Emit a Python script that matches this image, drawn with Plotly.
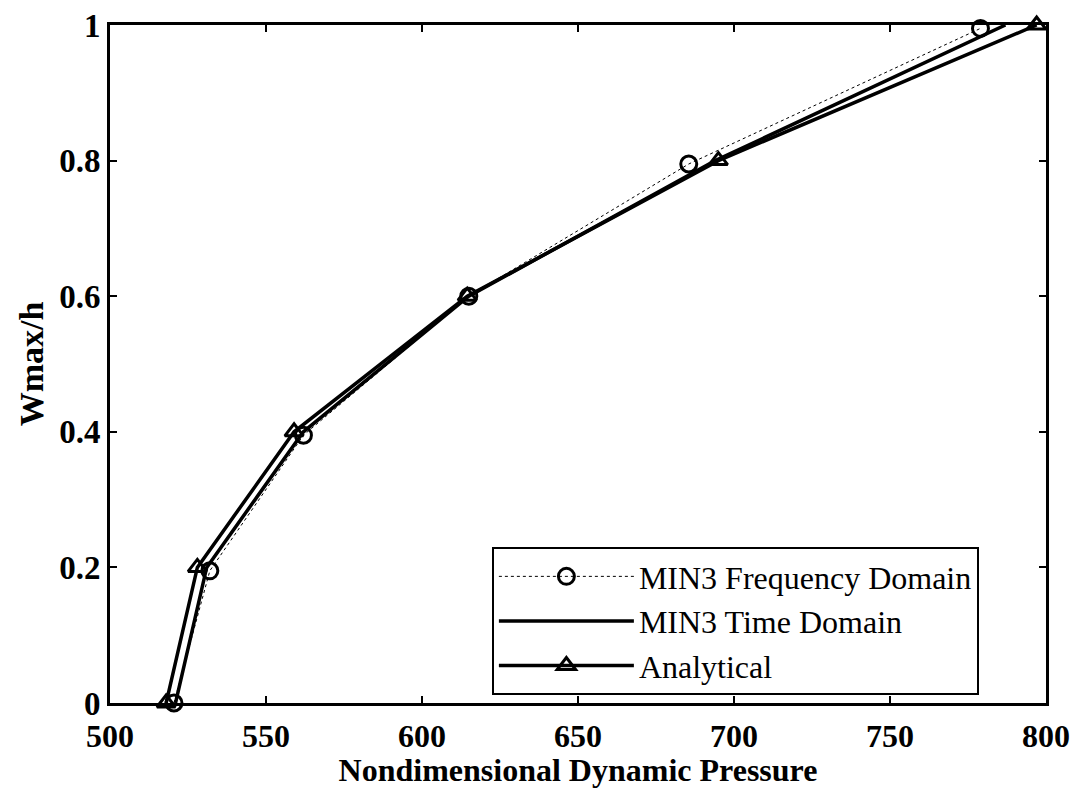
import plotly.graph_objects as go

# Data
freq_x = [520.5, 532, 562, 615, 685.5, 779]
freq_y = [0.0, 0.195, 0.395, 0.6, 0.795, 0.995]

time_x = [521, 531, 562, 615, 694, 787]
time_y = [0.0, 0.2, 0.4, 0.6, 0.8, 1.0]

anal_x = [518, 528, 559, 614.5, 695, 797]
anal_y = [0.0, 0.2, 0.4, 0.6, 0.8, 1.0]

x_ticks = [500, 550, 600, 650, 700, 750, 800]
y_ticks = [0, 0.2, 0.4, 0.6, 0.8, 1]
y_tick_text = ["0", "0.2", "0.4", "0.6", "0.8", "1"]

FONT = "Liberation Serif, Times New Roman, serif"

fig = go.Figure()
fig.add_trace(go.Scatter(
    x=freq_x, y=freq_y, mode="lines+markers", name="MIN3 Frequency Domain",
    line=dict(color="black", width=1, dash="dot"),
    marker=dict(symbol="circle-open", size=16, color="black", line=dict(width=3)),
    cliponaxis=False,
))
fig.add_trace(go.Scatter(
    x=time_x, y=time_y, mode="lines", name="MIN3 Time Domain",
    line=dict(color="black", width=3.5),
    cliponaxis=False,
))
fig.add_trace(go.Scatter(
    x=anal_x, y=anal_y, mode="lines+markers", name="Analytical",
    line=dict(color="black", width=3.5),
    marker=dict(symbol="triangle-up-open", size=16, color="black", line=dict(width=3)),
    cliponaxis=False,
))

axis_common = dict(
    showline=True, linecolor="black", linewidth=3, mirror="ticks",
    ticks="inside", ticklen=7, tickwidth=2, tickcolor="black",
    showgrid=False, zeroline=False,
    ticklabeloverflow="allow",
    automargin=False,
)

fig.update_layout(
    width=1064, height=780,
    paper_bgcolor="white", plot_bgcolor="white",
    margin=dict(l=102, r=26, t=17, b=85),
    font=dict(family=FONT, color="black"),
    xaxis=dict(
        range=[500, 800], tickvals=x_ticks,
        tickfont=dict(family=FONT, size=32, color="black", weight="bold"),
        ticklabelstandoff=3,
        title=dict(text="Nondimensional Dynamic Pressure",
                   font=dict(family=FONT, size=32, color="black", weight="bold"),
                   standoff=6),
        **axis_common,
    ),
    yaxis=dict(
        range=[0, 1], tickvals=y_ticks, ticktext=y_tick_text,
        tickfont=dict(family=FONT, size=33, color="black", weight="bold"),
        title=dict(text="Wmax/h",
                   font=dict(family=FONT, size=34, color="black", weight="bold"),
                   standoff=6),
        **axis_common,
    ),
    legend=dict(
        x=0.408, y=0.23, xanchor="left", yanchor="top",
        bgcolor="white", bordercolor="black", borderwidth=2,
        font=dict(family=FONT, size=32, color="black"),
        tracegroupgap=0, itemwidth=135,
    ),
    showlegend=True,
)

fig.write_html("out.html")
